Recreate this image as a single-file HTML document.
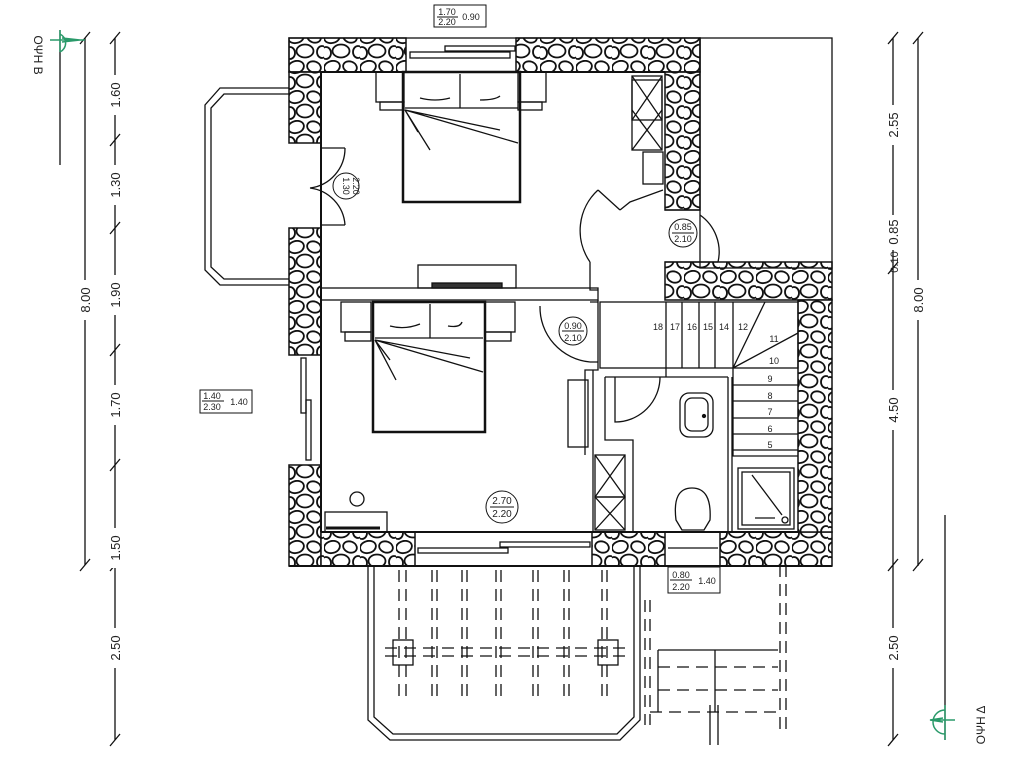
<!DOCTYPE html>
<html><head><meta charset="utf-8"><style>
html,body{margin:0;padding:0;background:#fff;width:1024px;height:768px;overflow:hidden}
svg{display:block}
text{font-family:"Liberation Sans",sans-serif;fill:#222}
</style></head><body>
<svg width="1024" height="768" viewBox="0 0 1024 768" xmlns="http://www.w3.org/2000/svg">
<defs>
<pattern id="st" width="36" height="30" patternUnits="userSpaceOnUse">
<rect width="36" height="30" fill="#fff"/>
<g fill="#fff" stroke="#111" stroke-width="1.8">
<ellipse cx="8" cy="7" rx="8" ry="6" transform="rotate(-15 8 7)"/>
<ellipse cx="26" cy="7" rx="7" ry="5.5" transform="rotate(20 26 7)"/>
<ellipse cx="17" cy="21" rx="8.5" ry="6.5"/>
<ellipse cx="34" cy="22" rx="5" ry="6"/>
<ellipse cx="2" cy="23" rx="5" ry="6"/>
</g>
</pattern>
</defs>
<g stroke="#111" fill="none" stroke-width="1.3">
<g fill="url(#st)" stroke="#111" stroke-width="1.5">
<rect x="289" y="38" width="117" height="34"/>
<rect x="516" y="38" width="184" height="34"/>
<rect x="289" y="72" width="32" height="71"/>
<rect x="289" y="228" width="32" height="127"/>
<rect x="289" y="465" width="32" height="101"/>
<rect x="321" y="532" width="94" height="34"/>
<rect x="592" y="532" width="73" height="34"/>
<rect x="720" y="532" width="112" height="34"/>
<rect x="665" y="72" width="35" height="138"/>
<rect x="665" y="262" width="167" height="38"/>
<rect x="798" y="300" width="34" height="232"/>
</g>
<rect x="289" y="38" width="411" height="34" fill="none"/>
<rect x="700" y="38" width="132" height="230"/>
<line x1="321" y1="72" x2="665" y2="72" stroke-width="2"/>
<line x1="321" y1="72" x2="321" y2="532" stroke-width="2"/>
<line x1="321" y1="532" x2="798" y2="532" stroke-width="2"/>
<line x1="289" y1="566" x2="832" y2="566" stroke-width="2"/>
<rect x="410" y="52" width="100" height="6"/><rect x="445" y="46" width="70" height="5"/>
<rect x="418" y="548" width="90" height="5"/><rect x="500" y="542" width="90" height="5"/>
<rect x="301" y="358" width="5" height="55"/><rect x="306" y="400" width="5" height="60"/>
<line x1="668" y1="548" x2="718" y2="548"/>
<path d="M289 88 H220 L205 105 V270 L220 285 H289"/>
<path d="M289 94 H224 L211 108 V267 L224 279 H289"/>
<path d="M321 148 H345 M321 225 H345"/>
<path d="M345 148 A40 40 0 0 1 310 188 M345 225 A40 40 0 0 0 310 188"/>
<rect x="376" y="72" width="28" height="30"/><rect x="380" y="102" width="24" height="8"/>
<rect x="518" y="72" width="28" height="30"/><rect x="518" y="102" width="24" height="8"/>
<rect x="403" y="72" width="117" height="130" stroke-width="2.5"/>
<line x1="460" y1="74" x2="460" y2="108"/><line x1="405" y1="108" x2="518" y2="108"/>
<path d="M405 110 L518 143 M405 110 L430 150 M405 110 L418 132 M405 110 L500 130"/>
<path d="M420 98 Q435 102 450 98 M480 100 Q495 100 500 96"/>
<rect x="632" y="76" width="30" height="44"/><path d="M632 76 L662 120 M662 76 L632 120"/>
<rect x="632" y="80" width="30" height="70"/><path d="M632 110 L662 150 M662 110 L632 150"/>
<rect x="643" y="152" width="20" height="32"/>
<path d="M598 190 A55 55 0 0 0 590 262 M598 190 L620 210 M620 210 L630 202 L663 190 M590 262 L590 290 L598 290"/>
<path d="M665 210 H700 M665 262 H700 M718 262 A45 45 0 0 0 700 215 M700 262 H718"/>
<rect x="321" y="288" width="277" height="12"/>
<rect x="418" y="265" width="98" height="23"/>
<rect x="432" y="283" width="70" height="5" fill="#333"/>
<rect x="341" y="302" width="30" height="30"/><rect x="345" y="332" width="26" height="9"/>
<rect x="485" y="302" width="30" height="30"/><rect x="485" y="332" width="26" height="9"/>
<rect x="373" y="302" width="112" height="130" stroke-width="2.5"/>
<line x1="430" y1="304" x2="430" y2="338"/><line x1="375" y1="338" x2="483" y2="338"/>
<path d="M375 340 L483 372 M375 340 L396 380 M375 340 L390 360 M375 340 L470 358"/>
<path d="M390 326 Q405 330 420 324 M448 326 Q460 328 462 322"/>
<circle cx="357" cy="499" r="7"/>
<rect x="325" y="512" width="62" height="20"/><line x1="326" y1="528" x2="380" y2="528" stroke-width="3"/>
<path d="M540 306 A55 55 0 0 0 590 362 M590 362 H598 M590 302 H598"/>
<rect x="568" y="380" width="20" height="67"/>
<rect x="595" y="455" width="30" height="42"/><path d="M595 455 L625 497 M625 455 L595 497"/>
<rect x="595" y="497" width="30" height="33"/><path d="M595 497 L625 530 M625 497 L595 530"/>
<path d="M598 300 V370 H585 V455 M593 370 V532 M605 377 V440 H633 V532"/>
<path d="M605 377 H728 M615 377 V422 A45 45 0 0 0 660 377 M728 377 V532 M732 377 V532"/>
<rect x="680" y="393" width="33" height="44" rx="9"/><rect x="685" y="398" width="23" height="33" rx="7"/>
<circle cx="704" cy="416" r="1.5" fill="#111"/>
<path d="M682 530 L676 520 Q672 488 692 488 Q712 488 710 520 L704 530 Z"/>
<rect x="738" y="468" width="56" height="61"/><rect x="742" y="472" width="48" height="53"/>
<path d="M752 475 L782 515 M755 518 H775"/><circle cx="785" cy="520" r="3"/>
<rect x="600" y="302" width="198" height="66"/>
<path d="M666 302 V377 M682 302 V368 M699 302 V368 M715 302 V368 M733 302 V368"/>
<path d="M733 368 L765 302 M733 368 L798 333"/>
<path d="M733 368 V456 H798 M733 385 H798 M733 401 H798 M733 418 H798 M733 434 H798 M733 450 H798"/>
<path d="M368 566 V720 L390 740 H620 L640 720 V566"/>
<path d="M374 566 V717 L393 734 H617 L634 717 V566"/>
<g stroke-dasharray="12,7">
<path d="M399 570 V700 M406 570 V700 M432 570 V700 M437 570 V700 M462 570 V700 M467 570 V700 M496 570 V700 M501 570 V700 M533 570 V700 M538 570 V700 M564 570 V700 M569 570 V700 M602 570 V700 M607 570 V700"/>
<path d="M385 648 H630 M385 656 H630"/>
<path d="M645 600 V725 M650 600 V725 M780 565 V730 M786 565 V730"/>
<path d="M658 667 H778 M658 690 H778 M650 712 H778"/>
</g>
<rect x="393" y="640" width="20" height="25"/><rect x="598" y="640" width="20" height="25"/>
<path d="M658 650 H778 M658 650 V712 M715 650 V712 M710 705 V745 M718 705 V745"/>
<path d="M85 38 V565 M115 38 V740"/>
<path d="M80 44 L90 32 M80 571 L90 559 M110 44 L120 32 M110 146 L120 134 M110 234 L120 222 M110 356 L120 344 M110 471 L120 459 M110 571 L120 559 M110 746 L120 734"/>
<path d="M893 38 V740 M918 38 V566"/>
<path d="M888 44 L898 32 M888 274 L898 262 M888 248 L898 236 M888 571 L898 559 M888 746 L898 734 M913 44 L923 32 M913 571 L923 559"/>
<path d="M945 515 V740"/>
<path d="M60 30 V165"/>
</g>
<g font-size="13" text-anchor="middle">
<rect x="80" y="280" width="10" height="40" fill="#fff"/>
<text transform="translate(90,300) rotate(-90)">8.00</text>
<rect x="108" y="75" width="14" height="40" fill="#fff"/><text transform="translate(120,95) rotate(-90)">1.60</text>
<rect x="108" y="165" width="14" height="40" fill="#fff"/><text transform="translate(120,185) rotate(-90)">1.30</text>
<rect x="108" y="275" width="14" height="40" fill="#fff"/><text transform="translate(120,295) rotate(-90)">1.90</text>
<rect x="108" y="385" width="14" height="40" fill="#fff"/><text transform="translate(120,405) rotate(-90)">1.70</text>
<rect x="108" y="528" width="14" height="40" fill="#fff"/><text transform="translate(120,548) rotate(-90)">1.50</text>
<rect x="108" y="628" width="14" height="40" fill="#fff"/><text transform="translate(120,648) rotate(-90)">2.50</text>
<rect x="886" y="105" width="14" height="40" fill="#fff"/><text transform="translate(898,125) rotate(-90)">2.55</text>
<rect x="886" y="215" width="14" height="35" fill="#fff"/><text transform="translate(898,232) rotate(-90)">0.85</text>
<text transform="translate(898,262) rotate(-90)" font-size="11">0.10</text>
<rect x="886" y="390" width="14" height="40" fill="#fff"/><text transform="translate(898,410) rotate(-90)">4.50</text>
<rect x="886" y="628" width="14" height="40" fill="#fff"/><text transform="translate(898,648) rotate(-90)">2.50</text>
<rect x="911" y="280" width="14" height="40" fill="#fff"/><text transform="translate(923,300) rotate(-90)">8.00</text>
<text transform="translate(34,55) rotate(90)" font-size="12">ΟΨΗ Β</text>
<text transform="translate(985,725) rotate(-90)" font-size="12">ΟΨΗ Δ</text>
</g>
<g stroke="#2a9a6a" fill="none" stroke-width="1.5">
<path d="M50 40 H85 M60 30 V52 M60 34 A10 10 0 0 1 60 52 M62 38 L80 40 L62 42"/>
<path d="M930 720 H955 M945 705 V740 M945 710 A12 12 0 0 0 945 734 M943 718 L930 720 L943 722"/>
</g>
<g font-size="9" fill="none" stroke="#111">
<rect x="434" y="5" width="52" height="22"/>
<circle cx="346" cy="186" r="13"/>
<circle cx="683" cy="233" r="14"/>
<circle cx="573" cy="331" r="14"/>
<circle cx="502" cy="507" r="16"/>
<rect x="200" y="390" width="52" height="23"/>
<rect x="668" y="567" width="52" height="26"/>
</g>
<g font-size="9" text-anchor="middle">
<text x="447" y="15">1.70</text><text x="447" y="25">2.20</text><text x="471" y="20">0.90</text>
<line x1="437" y1="17" x2="458" y2="17" stroke="#111"/>
<text transform="translate(343,186) rotate(90)">1.30</text><text transform="translate(353,186) rotate(90)">2.20</text>
<text x="683" y="230">0.85</text><text x="683" y="242">2.10</text><line x1="672" y1="233" x2="694" y2="233" stroke="#111"/>
<text x="573" y="329">0.90</text><text x="573" y="341">2.10</text><line x1="562" y1="331" x2="584" y2="331" stroke="#111"/>
<text x="502" y="504" font-size="10">2.70</text><text x="502" y="517" font-size="10">2.20</text><line x1="490" y1="507" x2="514" y2="507" stroke="#111"/>
<text x="212" y="399">1.40</text><text x="212" y="410">2.30</text><text x="239" y="405">1.40</text><line x1="202" y1="401" x2="224" y2="401" stroke="#111"/>
<text x="681" y="578">0.80</text><text x="681" y="590">2.20</text><text x="707" y="584">1.40</text><line x1="670" y1="580" x2="692" y2="580" stroke="#111"/>
<text x="658" y="330">18</text><text x="675" y="330">17</text><text x="692" y="330">16</text><text x="708" y="330">15</text><text x="724" y="330">14</text><text x="743" y="330">12</text>
<text x="774" y="342">11</text><text x="774" y="364">10</text><text x="770" y="382">9</text><text x="770" y="399">8</text><text x="770" y="415">7</text><text x="770" y="432">6</text><text x="770" y="448">5</text>
</g>
</svg>
</body></html>
